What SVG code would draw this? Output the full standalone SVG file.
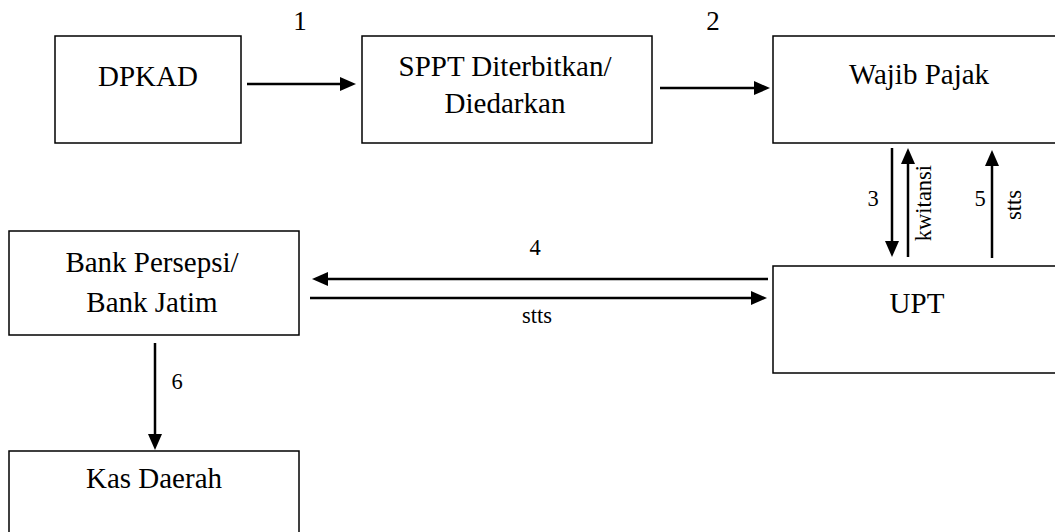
<svg xmlns="http://www.w3.org/2000/svg" width="1055" height="532" viewBox="0 0 1055 532">
<style>
  .box { fill: #ffffff; stroke: #000000; stroke-width: 1.5; }
  .t { font-family: "Liberation Serif", "Times New Roman", serif; fill: #000000; text-anchor: middle; }
  .big { font-size: 29px; }
  .num { font-size: 27px; }
  .sm { font-size: 22.5px; }
  .c { stroke: #000000; stroke-width: 2.5; fill: none; marker-end: url(#ah); }
</style>
<defs>
  <marker id="ah" markerUnits="userSpaceOnUse" markerWidth="18" markerHeight="16" refX="5" refY="7" orient="auto">
    <path d="M0,0 L16,7 L0,14 Z" fill="#000000"/>
  </marker>
</defs>
<rect width="1055" height="532" fill="#ffffff"/>
<g id="dpkad">
  <rect class="box" x="55" y="36" width="186" height="107"/>
  <text class="t big" x="148" y="86">DPKAD</text>
</g>
<g id="sppt">
  <rect class="box" x="362" y="36" width="290" height="107"/>
  <text class="t big" x="505" y="76">SPPT Diterbitkan/</text>
  <text class="t big" x="505" y="113">Diedarkan</text>
</g>
<g id="wajib-pajak">
  <rect class="box" x="773" y="36" width="290" height="107"/>
  <text class="t big" x="919" y="84">Wajib Pajak</text>
</g>
<g id="upt">
  <rect class="box" x="773" y="266" width="290" height="107"/>
  <text class="t big" x="917" y="313">UPT</text>
</g>
<g id="bank">
  <rect class="box" x="9" y="231" width="290" height="104"/>
  <text class="t big" x="152" y="272">Bank Persepsi/</text>
  <text class="t big" x="152" y="312">Bank Jatim</text>
</g>
<g id="kas-daerah">
  <rect class="box" x="9" y="451" width="290" height="107"/>
  <text class="t big" x="154" y="488">Kas Daerah</text>
</g>

<g id="connectors">
  <line class="c" x1="247" y1="84" x2="345" y2="84"/>
  <line class="c" x1="660" y1="88" x2="759" y2="88"/>
  <line class="c" x1="892" y1="148" x2="892" y2="246"/>
  <line class="c" x1="908" y1="257" x2="908" y2="159"/>
  <line class="c" x1="992" y1="258" x2="992" y2="161"/>
  <line class="c" x1="768" y1="279" x2="323" y2="279"/>
  <line class="c" x1="310" y1="298" x2="756" y2="298"/>
  <line class="c" x1="155" y1="343" x2="155" y2="439"/>

  <text class="t num" x="300" y="30">1</text>
  <text class="t num" x="713" y="30">2</text>
  <text class="t sm" x="873" y="206">3</text>
  <text class="t sm" x="980" y="206">5</text>
  <text class="t sm" x="535" y="255">4</text>
  <text class="t sm" x="537" y="323">stts</text>
  <text class="t sm" x="177" y="389">6</text>
  <text class="t sm" transform="translate(931,203) rotate(-90)">kwitansi</text>
  <text class="t sm" transform="translate(1021,205) rotate(-90)">stts</text>
</g>
</svg>
